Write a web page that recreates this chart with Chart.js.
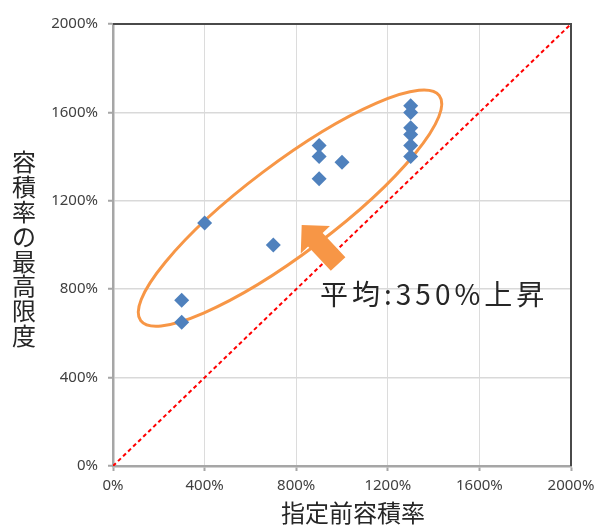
<!DOCTYPE html>
<html lang="ja">
<head>
<meta charset="utf-8">
<title>容積率の変化</title>
<script src="https://cdn.jsdelivr.net/npm/chart.js@4"></script>
<style>
  html, body { margin: 0; padding: 0; background: #ffffff; }
  #wrap { width: 597px; height: 525px; }
</style>
</head>
<body>
<div id="wrap"><canvas id="chart" width="597" height="525"></canvas></div>
<script>
// 指定前容積率 (x) と 容積率の最高限度 (y), 単位 %
const beforeRatio = [300, 300, 400, 700, 900, 900, 900, 1000, 1300, 1300, 1300, 1300, 1300, 1300];
const maxRatio    = [750, 650, 1100, 1000, 1450, 1400, 1300, 1375, 1630, 1600, 1530, 1500, 1450, 1400];

// 同値線 (y = x)
const equalLineX = [0, 2000];
const equalLineY = [0, 2000];

// 軸目盛
const tickValues = [0, 400, 800, 1200, 1600, 2000];

const xTitle = '指定前容積率';
const yTitle = '容積率の最高限度';
const noteText = '平均:350%上昇';

// 注記図形の位置 (データ単位)
const ellipseEnds = [[121, 658], [1425, 1676]];
const arrowTip = [824, 1090];
const arrowTail = [983, 914];
const noteAnchor = [904, 778];

const points = beforeRatio.map((x, i) => ({ x: x, y: maxRatio[i] }));
const equalLine = equalLineX.map((x, i) => ({ x: x, y: equalLineY[i] }));

const ORANGE = '#F79646';
const CJK = '"Noto Sans CJK JP", "Noto Sans", sans-serif';

// 楕円は点の下に描く
const ellipseMark = {
  id: 'ellipseMark',
  beforeDatasetsDraw(chart) {
    const { ctx, scales: { x, y } } = chart;
    const p1 = [x.getPixelForValue(ellipseEnds[0][0]), y.getPixelForValue(ellipseEnds[0][1])];
    const p2 = [x.getPixelForValue(ellipseEnds[1][0]), y.getPixelForValue(ellipseEnds[1][1])];
    const cx = (p1[0] + p2[0]) / 2, cy = (p1[1] + p2[1]) / 2;
    const semiMajor = Math.hypot(p2[0] - p1[0], p2[1] - p1[1]) / 2;
    const ang = Math.atan2(p2[1] - p1[1], p2[0] - p1[0]);
    ctx.save();
    ctx.strokeStyle = ORANGE;
    ctx.lineWidth = 3;
    ctx.beginPath();
    ctx.ellipse(cx, cy, semiMajor, 45, ang, 0, Math.PI * 2);
    ctx.stroke();
    ctx.restore();
  }
};

const annotations = {
  id: 'annotations',
  afterDatasetsDraw(chart) {
    const { ctx, chartArea: a, scales: { x, y } } = chart;
    ctx.save();

    // 上・右の枠線
    ctx.strokeStyle = '#4a4a4a';
    ctx.lineWidth = 2;
    ctx.beginPath();
    ctx.moveTo(a.left, a.top);
    ctx.lineTo(a.right, a.top);
    ctx.lineTo(a.right, a.bottom);
    ctx.stroke();

    // 矢印
    const tx = x.getPixelForValue(arrowTip[0]), ty = y.getPixelForValue(arrowTip[1]);
    const bx = x.getPixelForValue(arrowTail[0]), by = y.getPixelForValue(arrowTail[1]);
    const len = Math.hypot(bx - tx, by - ty);
    ctx.translate(tx, ty);
    ctx.rotate(Math.atan2(by - ty, bx - tx));
    const headLen = 20, headHalf = 20, shaftHalf = 10;
    ctx.fillStyle = ORANGE;
    ctx.beginPath();
    ctx.moveTo(0, 0);
    ctx.lineTo(headLen, -headHalf);
    ctx.lineTo(headLen, -shaftHalf);
    ctx.lineTo(len, -shaftHalf);
    ctx.lineTo(len, shaftHalf);
    ctx.lineTo(headLen, shaftHalf);
    ctx.lineTo(headLen, headHalf);
    ctx.closePath();
    ctx.fill();
    ctx.setTransform(1, 0, 0, 1, 0, 0);

    // 注記テキスト
    ctx.fillStyle = '#262626';
    ctx.font = '28px ' + CJK;
    ctx.letterSpacing = '4px';
    ctx.textAlign = 'left';
    ctx.textBaseline = 'middle';
    ctx.fillText(noteText, x.getPixelForValue(noteAnchor[0]), y.getPixelForValue(noteAnchor[1]));
    ctx.letterSpacing = '0px';

    // 軸タイトル
    ctx.font = '24px ' + CJK;
    ctx.textAlign = 'center';
    ctx.textBaseline = 'middle';
    ctx.fillText(xTitle, (a.left + a.right) / 2 + 11, a.bottom + 47);
    const pitch = 24.8;
    const chars = Array.from(yTitle);
    const startY = (a.top + a.bottom) / 2 + 4 - pitch * (chars.length - 1) / 2;
    chars.forEach((c, i) => ctx.fillText(c, 24, startY + i * pitch));

    ctx.restore();
  }
};

new Chart(document.getElementById('chart'), {
  type: 'scatter',
  data: {
    datasets: [
      {
        label: '容積率',
        data: points,
        pointStyle: 'rectRot',
        pointRadius: 7.5,
        pointHoverRadius: 7.5,
        backgroundColor: '#4F81BD',
        borderColor: '#4F81BD',
        borderWidth: 0,
        order: 1
      },
      {
        label: 'y = x',
        type: 'line',
        data: equalLine,
        borderColor: '#FF0000',
        borderWidth: 2,
        borderDash: [4, 3],
        pointRadius: 0,
        fill: false,
        order: 2
      }
    ]
  },
  options: {
    responsive: false,
    animation: false,
    devicePixelRatio: 1,
    layout: { padding: { left: 0, top: 24, right: 26, bottom: 0 } },
    plugins: {
      legend: { display: false },
      tooltip: { enabled: false },
      title: { display: false }
    },
    scales: {
      x: {
        type: 'linear',
        min: 0,
        max: 2000,
        afterBuildTicks: (s) => { s.ticks = tickValues.map(v => ({ value: v })); },
        afterFit: (s) => { s.height = 59; s.paddingLeft = 0; s.paddingRight = 0; },
        ticks: {
          callback: (v) => v + '%',
          color: '#404040',
          font: { family: '"Noto Sans", sans-serif', size: 15 },
          padding: 6,
          maxRotation: 0
        },
        grid: {
          color: '#DCDCDC',
          lineWidth: 1,
          tickLength: 5,
          tickColor: '#A6A6A6',
          tickWidth: 2
        },
        border: { color: '#A6A6A6', width: 2.5 }
      },
      y: {
        type: 'linear',
        min: 0,
        max: 2000,
        afterBuildTicks: (s) => { s.ticks = tickValues.map(v => ({ value: v })); },
        afterFit: (s) => { s.width = 113; s.paddingTop = 0; s.paddingBottom = 0; },
        ticks: {
          callback: (v) => v + '%',
          color: '#404040',
          font: { family: '"Noto Sans", sans-serif', size: 15 },
          padding: 10
        },
        grid: {
          color: '#D9D9D9',
          lineWidth: 1.5,
          tickLength: 5,
          tickColor: '#A6A6A6',
          tickWidth: 2
        },
        border: { color: '#A6A6A6', width: 2.5 }
      }
    }
  },
  plugins: [ellipseMark, annotations]
});
</script>
</body>
</html>
